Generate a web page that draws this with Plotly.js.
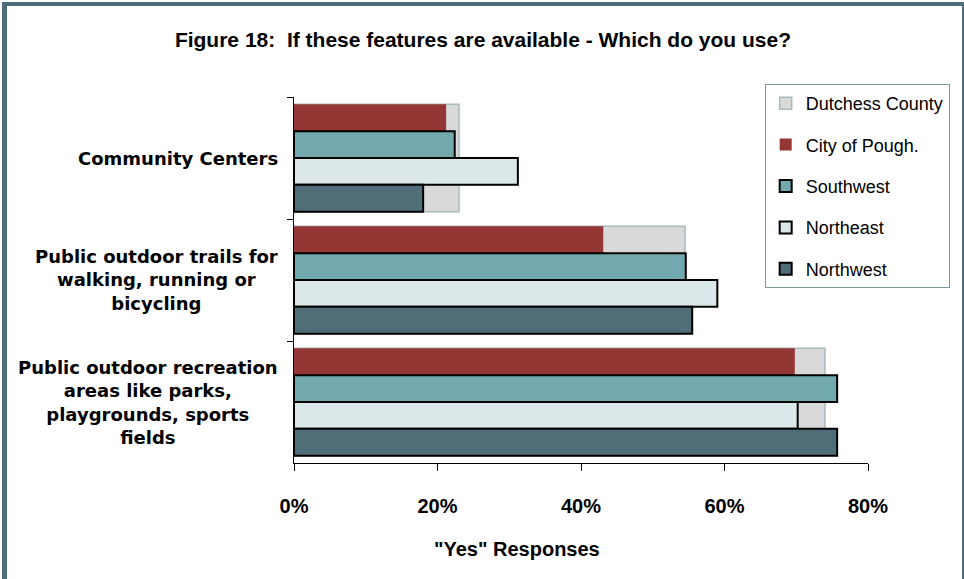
<!DOCTYPE html>
<html>
<head>
<meta charset="utf-8">
<script src="https://cdn.plot.ly/plotly-3.0.1.min.js"></script>
<style>
  html, body { margin: 0; padding: 0; background: #ffffff; }
  #wrap { position: relative; width: 964px; height: 579px; overflow: hidden; }
  #chart { position: absolute; left: 0; top: 0; width: 964px; height: 579px; }
  #frame { position: absolute; left: 2px; top: 2px; width: 962px; height: 590px; box-sizing: border-box;
           border-left: 5px solid #4f6d79; border-top: 4px solid #4f6d79; border-right: 2px solid #4f6d79;
           pointer-events: none; }
</style>
</head>
<body>
<div id="wrap">
  <div id="chart"></div>
  <div id="frame"></div>
</div>
<script>
// ---- data ----
const categories = [
  'Community Centers',
  'Public outdoor trails for walking, running or bicycling',
  'Public outdoor recreation areas like parks, playgrounds, sports fields'
];
const categoryLabels = [
  'Community Centers',
  'Public outdoor trails for<br>walking, running or<br>bicycling',
  'Public outdoor recreation<br>areas like parks,<br>playgrounds, sports<br>fields'
];
const seriesNames = ['Dutchess County', 'City of Pough.', 'Southwest', 'Northeast', 'Northwest'];
const dutchessCounty = [0.230, 0.545, 0.740];
const cityOfPough    = [0.212, 0.431, 0.698];
const southwest      = [0.224, 0.546, 0.757];
const northeast      = [0.312, 0.590, 0.702];
const northwest      = [0.180, 0.555, 0.757];
const xTickValues = [0, 0.2, 0.4, 0.6, 0.8];
const chartTitle = 'Figure 18:  If these features are available - Which do you use?';
const xTitle = '"Yes" Responses';

// ---- styles ----
const sansFamily = 'Liberation Sans, Arial, sans-serif';
const labelFamily = 'DejaVu Sans, Verdana, sans-serif';

const traces = [
  {
    type: 'bar', orientation: 'h', name: seriesNames[0], legendgroup: 'g0',
    y: categories, x: dutchessCounty, yaxis: 'y',
    marker: { color: '#d9d9d9', line: { color: '#a9b9bd', width: 1.5 } },
    hoverinfo: 'x+name'
  },
  {
    type: 'bar', orientation: 'h', name: seriesNames[1], legendgroup: 'g1',
    y: categories, x: cityOfPough, yaxis: 'y2',
    marker: { color: '#943634', line: { color: '#943634', width: 0 } },
    hoverinfo: 'x+name'
  },
  {
    type: 'bar', orientation: 'h', name: seriesNames[2], legendgroup: 'g2',
    y: categories, x: southwest, yaxis: 'y2',
    marker: { color: '#72a9ae', line: { color: '#000000', width: 2 } },
    hoverinfo: 'x+name'
  },
  {
    type: 'bar', orientation: 'h', name: seriesNames[3], legendgroup: 'g3',
    y: categories, x: northeast, yaxis: 'y2',
    marker: { color: '#dbe7e8', line: { color: '#000000', width: 2 } },
    hoverinfo: 'x+name'
  },
  {
    type: 'bar', orientation: 'h', name: seriesNames[4], legendgroup: 'g4',
    y: categories, x: northwest, yaxis: 'y2',
    marker: { color: '#4f6e78', line: { color: '#000000', width: 2 } },
    hoverinfo: 'x+name'
  }
];

const annotations = categories.map((c, i) => ({
  xref: 'paper', yref: 'y', x: 0, y: c,
  xanchor: 'right', yanchor: 'middle', xshift: -14,
  text: categoryLabels[i], align: 'center', showarrow: false,
  font: { family: labelFamily, size: 18, color: '#000000', weight: 'bold' }
}));
annotations.push({
  xref: 'paper', yref: 'paper', x: 0.3885, y: -0.235,
  xanchor: 'center', yanchor: 'middle', showarrow: false,
  text: xTitle,
  font: { family: sansFamily, size: 20, color: '#000000', weight: 'bold' }
});

const layout = {
  width: 964, height: 579,
  margin: { l: 294, r: 96, t: 97, b: 116 },
  paper_bgcolor: '#ffffff', plot_bgcolor: '#ffffff',
  title: {
    text: chartTitle, x: 0.501, xref: 'container', y: 0.931, yref: 'container',
    xanchor: 'center', yanchor: 'middle',
    font: { family: sansFamily, size: 21, color: '#000000', weight: 'bold' }
  },
  barmode: 'group', bargap: 0.12, bargroupgap: 0,
  xaxis: {
    range: [0, 0.8], tickvals: xTickValues, tickformat: '.0%',
    ticks: 'outside', ticklen: 7, tickcolor: '#000000', tickwidth: 1,
    showline: true, linecolor: '#000000', linewidth: 1,
    showgrid: false, zeroline: false, ticklabelstandoff: 18,
    tickfont: { family: sansFamily, size: 20, color: '#000000', weight: 'bold' }
  },
  yaxis: {
    type: 'category', autorange: 'reversed', showticklabels: false,
    ticks: 'outside', tickson: 'boundaries', ticklen: 6, tickcolor: '#000000',
    showline: true, linecolor: '#000000', linewidth: 1, showgrid: false, zeroline: false
  },
  yaxis2: {
    type: 'category', autorange: 'reversed', overlaying: 'y', visible: false,
    showgrid: false, zeroline: false
  },
  showlegend: true,
  legend: {
    x: 0.82, y: 1.0355, xanchor: 'left', yanchor: 'top',
    bgcolor: '#ffffff', bordercolor: '#7d959c', borderwidth: 1,
    traceorder: 'grouped', tracegroupgap: 15,
    font: { family: sansFamily, size: 18, color: '#000000' }
  },
  annotations: annotations
};

Plotly.newPlot('chart', traces, layout, { displayModeBar: false, staticPlot: true });
</script>
</body>
</html>
